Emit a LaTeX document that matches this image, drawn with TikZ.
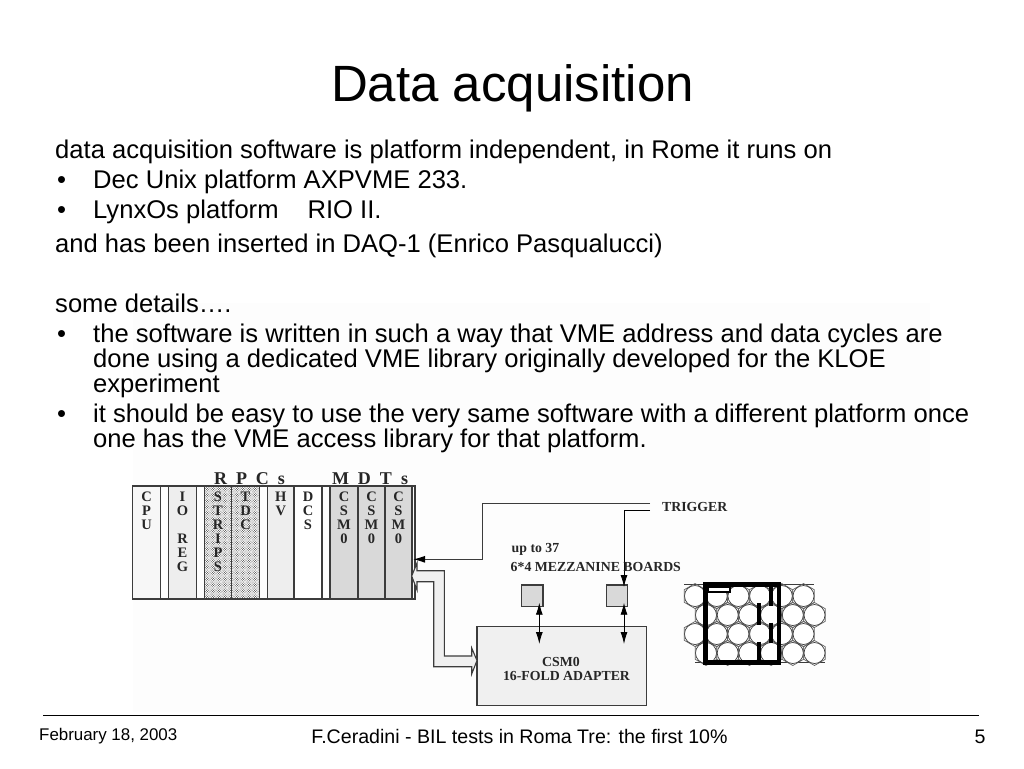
\documentclass[tikz,border=0pt]{standalone}
\usepackage{fontspec}
\usepackage{tikz}
\usepackage{xcolor}
\usetikzlibrary{arrows.meta,patterns,positioning}
\setmainfont{Liberation Sans}
\newfontfamily\drawfont{Liberation Serif}
\definecolor{slotline}{RGB}{60,60,60}
\definecolor{csmgray}{RGB}{217,217,217}
\definecolor{lightslot}{RGB}{238,238,238}
\definecolor{paleslot}{RGB}{247,247,247}
\definecolor{scanwhite}{RGB}{253,253,253}
\definecolor{busgray}{RGB}{240,240,240}
\pgfdeclarepatternformonly{scandots}{\pgfqpoint{-1pt}{-1pt}}{\pgfqpoint{2pt}{2pt}}{\pgfqpoint{2.4pt}{2.4pt}}{
  \pgfpathcircle{\pgfqpoint{0pt}{0pt}}{.5pt}
  \pgfpathcircle{\pgfqpoint{1.2pt}{1.2pt}}{.5pt}
  \pgfusepath{fill}
}
\tikzset{
  slide/.style={anchor=base west,inner sep=0pt,font=\fontsize{25.6}{25}\selectfont,align=left},
  slot/.style={draw=slotline,line width=1.1pt,anchor=north west,inner sep=0pt,outer sep=0pt,minimum height=113pt},
  dotslot/.style={slot,pattern=scandots,pattern color=black!75},
  slottext/.style={anchor=north,inner sep=0pt,align=center,font=\drawfont\bfseries\fontsize{14.5}{14}\selectfont,text=black!85},
  drawtext/.style={inner sep=0pt,font=\drawfont\bfseries\fontsize{13.8}{14}\selectfont,text=black!85,align=center},
  crate/.style={inner sep=0pt,anchor=base,font=\drawfont\bfseries\fontsize{18}{18}\selectfont,text=black!85},
  board/.style={draw=slotline,line width=1.1pt,fill=csmgray,anchor=north west,inner sep=0pt,outer sep=0pt,minimum width=21.5pt,minimum height=21.5pt},
  cable/.style={slotline,line width=1.3pt},
  blackhead/.style={-{Latex[length=12pt,width=7pt,black]}},
  bothheads/.style={black,line width=.9pt,{Latex[length=12pt,width=7pt]}-{Latex[length=12pt,width=7pt]}},
  tubeline/.style={draw=slotline!80,line width=.7pt},
  tuberound/.style={draw=slotline,line width=.7pt,fill=white}
}
\newcommand{\tubecell}[2]{
  \draw[tubeline] (#1,#2) +(30:12.5) -- +(90:12.5) -- +(150:12.5) -- +(210:12.5) -- +(270:12.5) -- +(330:12.5) -- cycle;
  \draw[tuberound] (#1,#2) circle (10.5);
}
\begin{document}
\begin{tikzpicture}[x=1pt,y=-1pt]
  \useasboundingbox (0,0) rectangle (1024,768);
  \fill[scanwhite] (133,303) rectangle (930,712);

  \node[anchor=base,inner sep=0pt,font=\fontsize{51}{56}\selectfont] (title) at (512.5,101) {Data acquisition};
  \node[slide] (intro) at (55,158) {data acquisition software is platform independent, in Rome it runs on};
  \node[slide] (bulleta) at (57,188) {•};
  \node[slide] (dec) at (93,188) {Dec Unix platform AXPVME 233.};
  \node[slide] (bulletb) at (57,218) {•};
  \node[slide] (lynx) at (93,218) {LynxOs platform\hspace{29pt}RIO II.};
  \node[slide] (daq) at (55,252) {and has been inserted in DAQ-1 (Enrico Pasqualucci)};
  \node[slide] (details) at (55,312) {some details….};
  \node[slide] (bulletc) at (57,342) {•};
  \node[slide,anchor=north west,yshift=18pt] (soft) at (93,342) {the software is written in such a way that VME address and data cycles are\\done using a dedicated VME library originally developed for the KLOE\\experiment};
  \node[slide] (bulletd) at (57,422) {•};
  \node[slide,anchor=north west,yshift=18pt] (easy) at (93,422) {it should be easy to use the very same software with a different platform once\\one has the VME access library for that platform.};

  \node[slot,minimum width=282.5pt] (rack) at (132.5,486) {};
  \node[slot,minimum width=28pt,fill=paleslot] (cpu) at (132.5,486) {};
  \node[slot,minimum width=28pt,fill=lightslot] (ioreg) at (168.5,486) {};
  \node[dotslot,minimum width=27pt] (strips) at (204.5,486) {};
  \node[dotslot,minimum width=28pt] (tdc) at (231.5,486) {};
  \node[slot,minimum width=26.5pt,fill=lightslot] (hv) at (267.5,486) {};
  \node[slot,minimum width=28pt,fill=white] (dcs) at (294,486) {};
  \node[slot,minimum width=28pt,fill=csmgray] (csma) at (330,486) {};
  \node[slot,minimum width=27pt,fill=csmgray] (csmb) at (358,486) {};
  \node[slot,minimum width=27pt,fill=csmgray] (csmc) at (385,486) {};

  \node[slottext] (cputext) at ([yshift=-6pt]cpu.north) {C\\P\\U};
  \node[slottext] (iotext) at ([yshift=-6pt]ioreg.north) {I\\O\\~\\R\\E\\G};
  \node[slottext] (stripstext) at ([yshift=-6pt]strips.north) {S\\T\\R\\I\\P\\S};
  \node[slottext] (tdctext) at ([yshift=-6pt]tdc.north) {T\\D\\C};
  \node[slottext] (hvtext) at ([yshift=-6pt]hv.north) {H\\V};
  \node[slottext] (dcstext) at ([yshift=-6pt]dcs.north) {D\\C\\S};
  \node[slottext] (csmatext) at ([yshift=-6pt]csma.north) {C\\S\\M\\0};
  \node[slottext] (csmbtext) at ([yshift=-6pt]csmb.north) {C\\S\\M\\0};
  \node[slottext] (csmctext) at ([yshift=-6pt]csmc.north) {C\\S\\M\\0};
  \node[crate] (rpcs) at (249.5,484) {R\hspace{9pt}P\hspace{9pt}C\hspace{9pt}s};
  \node[crate] (mdts) at (370,484) {M\hspace{9pt}D\hspace{9pt}T\hspace{9pt}s};

  \node[board] (boarda) at (521.5,585) {};
  \node[board] (boardb) at (606.3,585) {};
  \node[slot,fill=busgray,minimum width=169.5pt,minimum height=78.5pt] (adapter) at (477,626.7) {};

  \coordinate (trigup) at (650,503.7);
  \coordinate (trigdown) at (650,510);
  \coordinate (trigbend) at (482.3,559.3);
  \coordinate (rackin) at (413,559.3);
  \coordinate (boardin) at (624,587);
  \coordinate (busrack) at (411.7,576);
  \coordinate (busend) at (477,660.5);
  \coordinate (boardaout) at (539.3,602.7);
  \coordinate (adapterain) at (539.3,644);
  \coordinate (boardbout) at (624,602.7);
  \coordinate (adapterbin) at (624,644);

  \draw[cable,blackhead] (trigup) -| (trigbend) -- (rackin);
  \draw[black,line width=.9pt,blackhead] (trigdown) -| (boardin);
  \draw[bothheads] (boardaout) -- (adapterain);
  \draw[bothheads] (boardbout) -- (adapterbin);
  \filldraw[cable,fill=busgray,line width=1.1pt] (busrack) -- (417,563) -- (417,570.7) -- (444.3,570.7) -- (444.3,656) -- (471.7,656) -- (471.7,648) -- (busend) -- (471.7,674) -- (471.7,666.7) -- (433.7,666.7) -- (433.7,581.7) -- (417,581.7) -- (417,590) -- cycle;

  \node[drawtext,anchor=west] (trigger) at (662,507) {TRIGGER};
  \node[drawtext,anchor=west] (upto) at (511.5,549) {up to 37};
  \node[drawtext,anchor=west] (mezz) at (510.5,566.5) {6*4 MEZZANINE BOARDS};
  \node[drawtext] (csmlabel) at (561,661.5) {CSM0};
  \node[drawtext] (foldlabel) at (566.5,675.5) {16-FOLD ADAPTER};

  \draw[slotline,line width=.9pt] (684,584.3) -- (814,584.3);
  \draw[slotline,line width=.9pt] (695,662.7) -- (825,662.7);
  \tubecell{695}{596}\tubecell{716.7}{596}\tubecell{738.4}{596}\tubecell{760.1}{596}\tubecell{781.8}{596}\tubecell{803.5}{596}
  \tubecell{706}{615}\tubecell{727.7}{615}\tubecell{749.4}{615}\tubecell{771.1}{615}\tubecell{792.8}{615}\tubecell{814.5}{615}
  \tubecell{695}{634}\tubecell{716.7}{634}\tubecell{738.4}{634}\tubecell{760.1}{634}\tubecell{781.8}{634}\tubecell{803.5}{634}
  \tubecell{706}{653}\tubecell{727.7}{653}\tubecell{749.4}{653}\tubecell{771.1}{653}\tubecell{792.8}{653}\tubecell{814.5}{653}
  \draw[black,line width=4.5pt] (705.7,584.3) rectangle (779,662.7);
  \draw[black,line width=1.8pt,fill=white] (708,586.7) rectangle (730,591.7);
  \draw[black,line width=4pt] (759.3,603) -- (759.3,625);
  \draw[black,line width=4pt] (770.7,587) -- (770.7,606);
  \draw[black,line width=4pt] (770.7,622.7) -- (770.7,643);
  \draw[black,line width=4pt] (759.3,641.7) -- (759.3,661.7);

  \draw[black,line width=.8pt] (43,715) -- (979,715);
  \node[anchor=base west,inner sep=0pt,font=\fontsize{16.9}{19}\selectfont] (date) at (39,740) {February 18, 2003};
  \node[anchor=base,inner sep=0pt,font=\fontsize{19.6}{22}\selectfont] (footer) at (519.5,743) {F.Ceradini - BIL tests in Roma Tre: the first 10\%};
  \node[anchor=base,inner sep=0pt,font=\fontsize{19.6}{22}\selectfont] (page) at (980,743) {5};
\end{tikzpicture}
\end{document}
